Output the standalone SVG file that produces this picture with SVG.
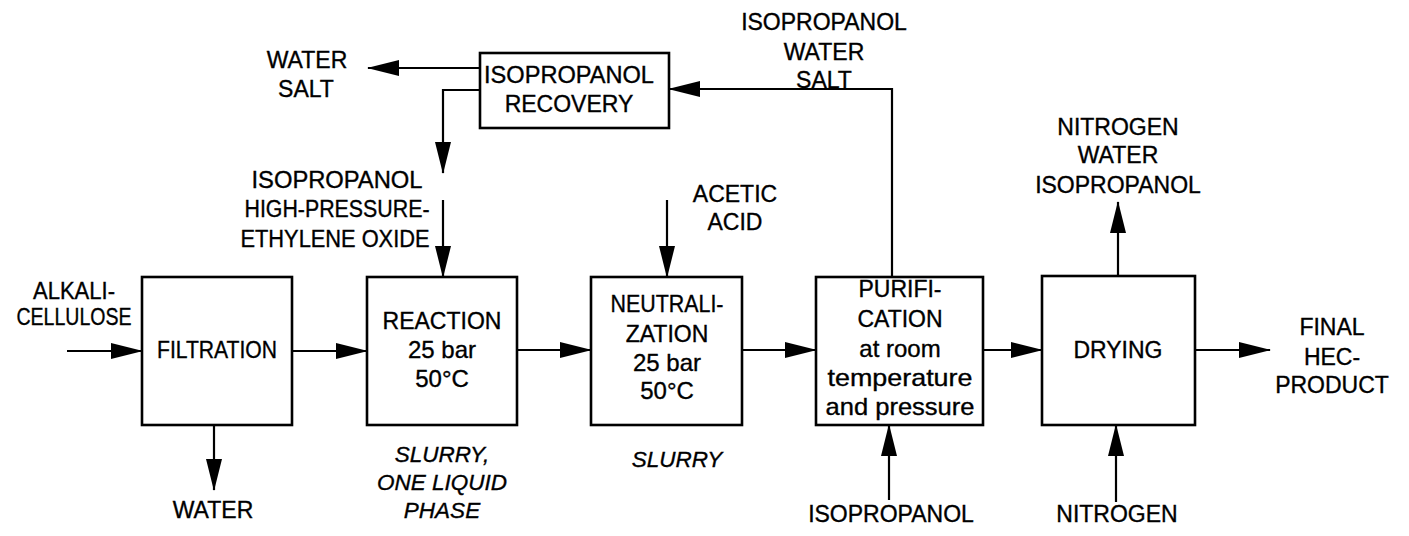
<svg xmlns="http://www.w3.org/2000/svg" width="1409" height="536" viewBox="0 0 1409 536">
<defs>
<style>
.box{fill:#fff;stroke:#000;stroke-width:2.6}
.ln{fill:none;stroke:#000;stroke-width:2.2}
text{font-family:"Liberation Sans",Arial,sans-serif;font-size:23px;fill:#000;stroke:#000;stroke-width:0.35;text-anchor:middle}
.lc{font-size:24px}
.it{font-style:italic;font-size:22.5px}
</style>
<marker id="ah" markerUnits="userSpaceOnUse" markerWidth="32" markerHeight="16" refX="31" refY="8" orient="auto">
<path d="M0,0 L32,8 L0,16 z" fill="#000"/>
</marker>
</defs>
<g id="connectors">
<path class="ln" d="M67,351 H142" marker-end="url(#ah)"/>
<path class="ln" d="M292,351 H367" marker-end="url(#ah)"/>
<path class="ln" d="M214,425 V490" marker-end="url(#ah)"/>
<path class="ln" d="M517,350 H591" marker-end="url(#ah)"/>
<path class="ln" d="M742,350 H816" marker-end="url(#ah)"/>
<path class="ln" d="M983,350 H1042" marker-end="url(#ah)"/>
<path class="ln" d="M1195,350 H1270" marker-end="url(#ah)"/>
<path class="ln" d="M889,500 V425" marker-end="url(#ah)"/>
<path class="ln" d="M1116,502 V425" marker-end="url(#ah)"/>
<path class="ln" d="M1118,275 V202" marker-end="url(#ah)"/>
<path class="ln" d="M667,200 V277" marker-end="url(#ah)"/>
<path class="ln" d="M443,200 V277" marker-end="url(#ah)"/>
<path class="ln" d="M480,90 H443 V173" marker-end="url(#ah)"/>
<path class="ln" d="M480,68 H368" marker-end="url(#ah)"/>
<path class="ln" d="M892,277 V89 H669" marker-end="url(#ah)"/>
</g>
<g id="filtration">
<rect class="box" x="142" y="277" width="150" height="148"/>
<text x="217" y="358" textLength="120" lengthAdjust="spacingAndGlyphs">FILTRATION</text>
</g>
<g id="reaction">
<rect class="box" x="367" y="277" width="150" height="148"/>
<text x="442" y="329">REACTION</text>
<text class="lc" x="442" y="358">25 bar</text>
<text class="lc" x="442" y="387">50°C</text>
</g>
<g id="neutralization">
<rect class="box" x="591" y="277" width="151" height="148"/>
<text x="667" y="312" textLength="113" lengthAdjust="spacingAndGlyphs">NEUTRALI-</text>
<text x="667" y="342">ZATION</text>
<text class="lc" x="667" y="371">25 bar</text>
<text class="lc" x="667" y="399">50°C</text>
</g>
<g id="purification">
<rect class="box" x="816" y="277" width="167" height="148"/>
<text x="900" y="297">PURIFI-</text>
<text x="900" y="327">CATION</text>
<text class="lc" x="900" y="357">at room</text>
<text class="lc" x="900" y="386" textLength="145" lengthAdjust="spacingAndGlyphs">temperature</text>
<text class="lc" x="900" y="415" textLength="149" lengthAdjust="spacingAndGlyphs">and pressure</text>
</g>
<g id="drying">
<rect class="box" x="1042" y="276" width="153" height="149"/>
<text x="1118" y="358">DRYING</text>
</g>
<g id="recovery">
<rect class="box" x="480" y="53" width="189" height="75"/>
<text x="569" y="83" textLength="170" lengthAdjust="spacingAndGlyphs">ISOPROPANOL</text>
<text x="569" y="112">RECOVERY</text>
</g>
<g id="labels">
<text x="74" y="299" textLength="82" lengthAdjust="spacingAndGlyphs">ALKALI-</text>
<text x="74" y="325" textLength="115" lengthAdjust="spacingAndGlyphs">CELLULOSE</text>
<text x="213" y="518">WATER</text>
<text x="307" y="68">WATER</text>
<text x="306" y="97">SALT</text>
<text x="337" y="188" textLength="171" lengthAdjust="spacingAndGlyphs">ISOPROPANOL</text>
<text x="337" y="217" textLength="185" lengthAdjust="spacingAndGlyphs">HIGH-PRESSURE-</text>
<text x="335" y="247" textLength="189" lengthAdjust="spacingAndGlyphs">ETHYLENE OXIDE</text>
<text x="824" y="30">ISOPROPANOL</text>
<text x="824" y="60">WATER</text>
<text x="824" y="88">SALT</text>
<text x="735" y="202">ACETIC</text>
<text x="735" y="230">ACID</text>
<text x="1118" y="135">NITROGEN</text>
<text x="1118" y="163">WATER</text>
<text x="1118" y="193">ISOPROPANOL</text>
<text x="1332" y="335">FINAL</text>
<text x="1332" y="365">HEC-</text>
<text x="1332" y="393">PRODUCT</text>
<text class="it" x="442" y="462">SLURRY,</text>
<text class="it" x="442" y="490">ONE LIQUID</text>
<text class="it" x="442" y="518">PHASE</text>
<text class="it" x="677" y="467">SLURRY</text>
<text x="891" y="522">ISOPROPANOL</text>
<text x="1117" y="522">NITROGEN</text>
</g>
</svg>
